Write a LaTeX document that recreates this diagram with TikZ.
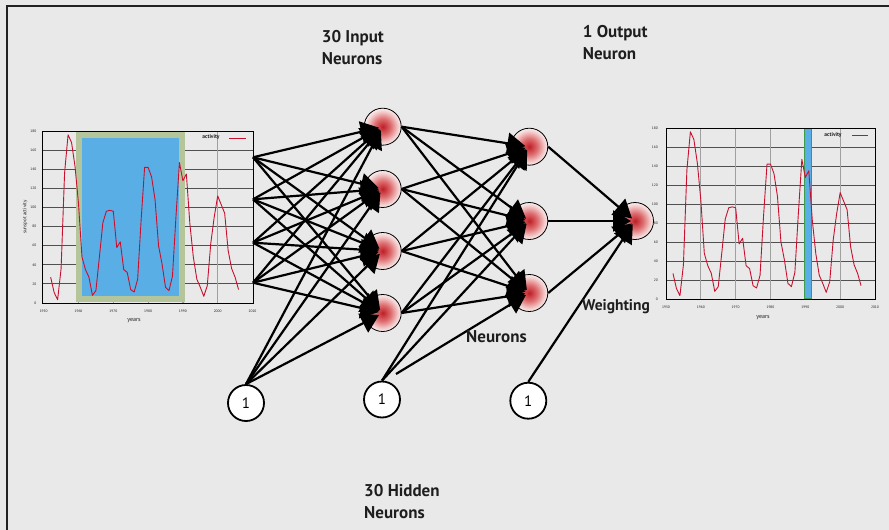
\documentclass[tikz,border=0pt]{standalone}
\usepackage{fontspec}
\setmainfont{PT Sans}
\usetikzlibrary{arrows.meta,calc}
\definecolor{bg}{HTML}{E9E9E9}
\definecolor{framec}{HTML}{222222}
\definecolor{sunred}{HTML}{C8102E}
\definecolor{boxblue}{HTML}{5AAEE6}
\definecolor{boxgreen}{HTML}{B4C59B}
\definecolor{bargreen}{HTML}{3E9B4F}
\definecolor{gridh}{HTML}{505050}
\definecolor{gridv}{HTML}{A0A0A0}
\definecolor{txt}{HTML}{1E1E1E}
\definecolor{nc0}{RGB}{190,30,38}
\definecolor{nc1}{RGB}{222,110,112}
\definecolor{nc2}{RGB}{242,200,200}
\definecolor{nc3}{RGB}{250,238,238}
\pgfdeclareradialshading{neuronshade}{\pgfpoint{0bp}{0bp}}{color(0bp)=(nc0); color(11bp)=(nc1); color(20bp)=(nc2); color(25bp)=(nc3); color(50bp)=(nc3)}
\begin{document}
\begin{tikzpicture}[x=1pt,y=-1pt,
  neuron/.style={circle, minimum size=37pt, inner sep=0pt, draw=black, line width=0.8pt, shade, shading=neuronshade},
  bias/.style={circle, minimum size=36pt, inner sep=0pt, draw=black, line width=1.8pt, fill=white, font=\fontsize{15}{15}\selectfont},
  conn/.style={draw=black, line width=2.2pt, -{Triangle[length=18pt,width=21pt]}, shorten >=4pt},
  lbl/.style={font=\fontsize{17}{21.6}\selectfont\bfseries, text=txt, align=left, inner sep=0pt, anchor=north west},
  tick/.style={font=\fontsize{3.6}{3.6}\selectfont, text=txt, inner sep=0pt},
  small/.style={font=\fontsize{6}{6}\selectfont, text=txt, inner sep=0pt},
  gh/.style={gridh, line width=0.8pt},
  gv/.style={gridv, line width=1.2pt},
  dataline/.style={sunred, line width=0.9pt, line join=round}
]
\useasboundingbox (0,0) rectangle (889,530);
\fill[bg] (0,0) rectangle (889,530);
\draw[framec, line width=1.3pt] (7,530) -- (7,6) -- (889,6);

% ---------------- left chart ----------------
\foreach \k in {1,...,8} \draw[gh] (42,{303-19.111*\k}) -- (253,{303-19.111*\k});
\foreach \yr in {1960,1970,...,2000} \draw[gv] ({43.7+(\yr-1950)*3.48},131) -- ({43.7+(\yr-1950)*3.48},303);
\draw[boxgreen, fill=boxblue, line width=5.5pt] (78.8,134.8) rectangle (182.2,299.2);
\begin{scope}[shift={(43.7,303)}, x=3.48pt, y=0.9556pt]
\draw[dataline] plot coordinates {(2,27) (3,11) (4,3.5) (5,36) (6,136) (7,176) (8,168) (9,143) (10,104) (11,48) (12,35) (13,27) (14,8) (15,13) (16,48) (17,84) (18,96) (19,97) (20,96) (21,58) (22,64) (23,35) (24,32) (25,14) (26,11.6) (27,25) (28,87) (29,142) (30,142) (31,132) (32,108) (33,60) (34,41) (35,16.5) (36,13) (37,28) (38,90) (39,147) (40,128) (41,135) (42,83) (43,48) (44,25) (45,16.5) (46,7) (47,18) (48,62) (49,90) (50,112) (51,103) (52,94) (53,55) (54,36) (55,27) (56,14)};
\end{scope}
\draw[black, line width=1pt] (42,131) rectangle (253,303);
\foreach \v [count=\k from 0] in {0,20,...,180} \node[tick, anchor=east] (ly\k) at (36.5,{303-19.111*\k}) {\v};
\foreach \yr [count=\k] in {1950,1960,...,2010} \node[tick] (lx\k) at ({43.7+(\yr-1950)*3.48},311) {\yr};
\node[small, rotate=90, font=\fontsize{5}{5}\selectfont] (lyt) at (25,217) {sunspot activity};
\node[small] (lxt) at (134,321) {years};
\node[small, font=\fontsize{5.5}{5.5}\selectfont\bfseries] (lleg) at (211,137) {activity};
\draw[sunred, line width=1pt] (229,138) -- (246,138);

% ---------------- right chart ----------------
\foreach \k in {1,...,8} \draw[gh] (666,{299-19*\k}) -- (875,{299-19*\k});
\foreach \yr in {1960,1970,...,2000} \draw[gv] ({666+(\yr-1950)*3.483},128) -- ({666+(\yr-1950)*3.483},299);
\draw[bargreen, fill=boxblue, line width=1.3pt] (804.3,128.6) rectangle (811.7,298.4);
\begin{scope}[shift={(666,299)}, x=3.483pt, y=0.95pt]
\draw[dataline] plot coordinates {(2,27) (3,11) (4,3.5) (5,36) (6,136) (7,176) (8,168) (9,143) (10,104) (11,48) (12,35) (13,27) (14,8) (15,13) (16,48) (17,84) (18,96) (19,97) (20,96) (21,58) (22,64) (23,35) (24,32) (25,14) (26,11.6) (27,25) (28,87) (29,142) (30,142) (31,132) (32,108) (33,60) (34,41) (35,16.5) (36,13) (37,28) (38,90) (39,147) (40,128) (41,135) (42,83) (43,48) (44,25) (45,16.5) (46,7) (47,18) (48,62) (49,90) (50,112) (51,103) (52,94) (53,55) (54,36) (55,27) (56,14)};
\end{scope}
\draw[black, line width=1pt] (666,128) rectangle (875,299);
\foreach \v [count=\k from 0] in {0,20,...,180} \node[tick, anchor=east] (ry\k) at (658,{299-19*\k}) {\v};
\foreach \yr [count=\k] in {1950,1960,...,2010} \node[tick] (rx\k) at ({666+(\yr-1950)*3.483},307) {\yr};
\node[small] (rxt) at (763,318) {years};
\node[small, font=\fontsize{5.5}{5.5}\selectfont\bfseries] (rleg) at (833,135) {activity};
\draw[sunred, line width=1pt] (852,135) -- (868,135);

% ---------------- network ----------------
\node[neuron] (i1) at (382.7,126.7) {};
\node[neuron] (i2) at (382.7,189) {};
\node[neuron] (i3) at (382.7,251) {};
\node[neuron] (i4) at (382.7,313) {};
\node[neuron] (h1) at (529.3,146.7) {};
\node[neuron] (h2) at (529.3,221) {};
\node[neuron] (h3) at (529.3,293) {};
\node[neuron] (o) at (635,221) {};
\node[bias] (b1) at (246,403) {1};
\node[bias] (b2) at (382,399.5) {1};
\node[bias] (b3) at (528.3,400.7) {1};
\coordinate (s1) at (253,157.3);
\coordinate (s2) at (253,199.3);
\coordinate (s3) at (253,242.7);
\coordinate (s4) at (253,282.7);
\coordinate (d) at (396,374);

\foreach \s in {s1,s2,s3,s4} \foreach \t in {i1,i2,i3,i4} \draw[conn] (\s) -- (\t.center);
\foreach \t in {i1,i2,i3,i4} \draw[conn] (b1.north) -- (\t.center);
\foreach \s in {i1,i2,i3,i4} \foreach \t in {h1,h2,h3} \draw[conn] (\s.east) -- (\t.center);
\draw[conn] (b2.north) -- (h1.center);
\draw[conn] (b2.north) -- (h2.center);
\draw[conn] (d) -- (h3.center);
\foreach \s in {h1,h2,h3} \draw[conn] (\s.east) -- (o.center);
\draw[conn] (b3.north) -- (o.center);

% ---------------- labels ----------------
\node[lbl] (tin) at (321.7,30.5) {30 Input\\Neurons};
\node[lbl] (tout) at (582.7,25.5) {1 Output\\Neuron};
\node[lbl] (thid) at (364,484.5) {30 Hidden\\Neurons};
\node[lbl] (tneu) at (466,330.5) {Neurons};
\node[lbl, font=\fontsize{15.5}{20}\selectfont\bfseries] (tw) at (582,299.5) {Weighting};
\end{tikzpicture}
\end{document}
